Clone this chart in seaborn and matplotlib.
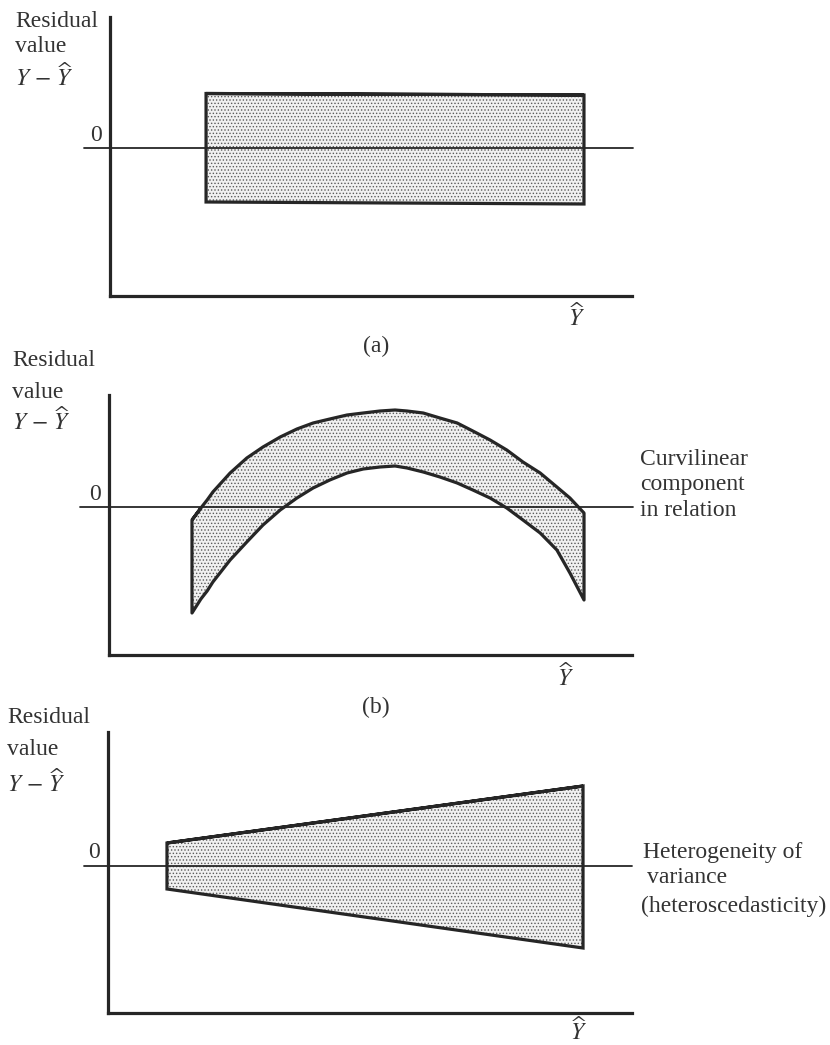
import matplotlib
matplotlib.use("Agg")
import matplotlib.pyplot as plt
import seaborn as sns
import numpy as np

# ---------------- data (schematic residual bands) ----------------
# panel (a): constant band
a_x = [1.84, 9.08]
a_upper = [1.09, 1.06]
a_lower = [-1.08, -1.12]

# panel (b): curvilinear band
b_x = [1.59, 1.76, 1.88, 1.99, 2.32, 2.64, 2.95, 3.28, 3.60, 3.91, 4.23, 4.56, 4.87, 5.19,
       5.48, 5.71, 6.02, 6.34, 6.67, 6.97, 7.30, 7.62, 7.93, 8.26, 8.58, 8.83, 9.10]
b_upper = [-0.26, -0.02, 0.14, 0.30, 0.68, 0.98, 1.20, 1.40, 1.56, 1.68, 1.76, 1.84, 1.88, 1.92,
           1.94, 1.92, 1.88, 1.78, 1.68, 1.52, 1.34, 1.14, 0.90, 0.68, 0.40, 0.18, -0.12]
b_lower = [-2.12, -1.84, -1.68, -1.50, -1.06, -0.70, -0.36, -0.06, 0.18, 0.38, 0.54, 0.68, 0.76, 0.80,
           0.82, 0.78, 0.70, 0.60, 0.48, 0.34, 0.18, -0.02, -0.26, -0.52, -0.86, -1.32, -1.86]

# panel (c): widening band (heteroscedasticity)
c_x = [1.13, 9.10]
c_upper = [0.46, 1.60]
c_lower = [-0.46, -1.64]

panel_labels = ["(a)", "(b)", ""]
right_labels = [[], ["Curvilinear", "component", "in relation"],
                ["Heterogeneity of", "variance", "(heteroscedasticity)"]]
ylabel_lines = ["Residual", "value", r"$Y\,-\,\widehat{Y}$"]
zero_label = "0"
xhat_label = r"$\widehat{Y}$"

# ---------------- style ----------------
sns.set_theme(style="white")
plt.rcParams["font.family"] = ["Liberation Serif", "DejaVu Serif"]
plt.rcParams["mathtext.fontset"] = "stix"
plt.rcParams["hatch.color"] = "#5a5a5a"
plt.rcParams["hatch.linewidth"] = 0.6

W, H = 830, 1045
fig = plt.figure(figsize=(W / 100, H / 100), dpi=100)
INK = "#262626"
TXT = "#333333"
FS = 17

def fx(px):
    return px / W

def fy(py):
    return 1 - py / H

# axes boxes in pixels: left, right, top, bottom, zero-line y
boxes = [
    (110, 632, 17, 296, 148),
    (109, 632, 395, 655, 507),
    (108, 632, 732, 1013, 866),
]
scale_x = 52.2   # px per data unit
scale_y = 50.0

data = [(a_x, a_upper, a_lower), (b_x, b_upper, b_lower), (c_x, c_upper, c_lower)]
zero_ext = [(84, 633), (80, 633), (84, 632)]
joins = ["miter", "round", "miter"]

for i, (l, r, t, b, z) in enumerate(boxes):
    ax = fig.add_axes([fx(l), fy(b), (r - l) / W, (b - t) / H])
    ax.set_xlim(0, (r - l) / scale_x)
    ax.set_ylim(-(b - z) / scale_y, (z - t) / scale_y)
    sns.despine(ax=ax)
    for s in ("left", "bottom"):
        ax.spines[s].set_linewidth(2.3)
        ax.spines[s].set_color(INK)
    ax.set_xticks([])
    ax.set_yticks([])
    ax.patch.set_alpha(0)

    x, up, lo = data[i]
    x = np.asarray(x); up = np.asarray(up); lo = np.asarray(lo)
    # stippled fill
    ax.fill_between(x, lo, up, facecolor="#f0f0f0", edgecolor="#5a5a5a",
                    linewidth=0, hatch=".....", zorder=1)
    # zero line
    zx0 = (zero_ext[i][0] - l) / scale_x
    zx1 = (zero_ext[i][1] - l) / scale_x
    ax.plot([zx0, zx1], [0, 0], color=INK, lw=1.3, clip_on=False, zorder=2)
    # outline of band
    px = np.concatenate([x, x[::-1], x[:1], x[1:2]])
    py = np.concatenate([up, lo[::-1], up[:1], up[1:2]])
    sns.lineplot(x=px, y=py, sort=False, estimator=None, color=INK, lw=2.3,
                 ax=ax, zorder=3, solid_joinstyle=joins[i], solid_capstyle="butt")

# ---------------- texts ----------------
ylab_pos = [
    (15, [27, 52, 86]),
    (12, [366, 398, 430]),
    (7, [723, 755, 792]),
]
for x0, ys in ylab_pos:
    for txt, yb in zip(ylabel_lines, ys):
        fig.text(fx(x0), fy(yb), txt, fontsize=FS, color=TXT, ha="left", va="baseline")

zero_pos = [(96, 141), (95, 500), (94, 858)]
for xz, yz in zero_pos:
    fig.text(fx(xz), fy(yz), zero_label, fontsize=FS, color=TXT, ha="center", va="baseline")

hat_pos = [(576, 326), (565, 686), (578, 1040)]
for xh, yh in hat_pos:
    fig.text(fx(xh), fy(yh), xhat_label, fontsize=FS, color=TXT, ha="center", va="baseline")

plab_pos = [(376, 352), (376, 713)]
for lab, (xp, yp) in zip(panel_labels, plab_pos):
    fig.text(fx(xp), fy(yp), lab, fontsize=FS, color=TXT, ha="center", va="baseline")

right_pos = [None, [(640, 465), (640, 490), (640, 516)],
             [(643, 858), (647, 883), (641, 912)]]
for labs, poss in zip(right_labels, right_pos):
    if not labs:
        continue
    for txt, (xr, yr) in zip(labs, poss):
        fig.text(fx(xr), fy(yr), txt, fontsize=FS, color=TXT, ha="left", va="baseline")

fig.savefig("out.png", dpi=100, facecolor="white")
